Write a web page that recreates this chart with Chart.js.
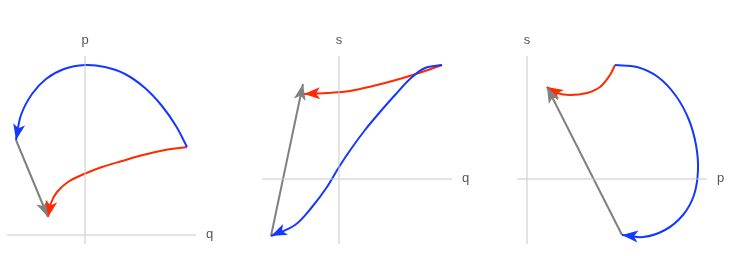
<!DOCTYPE html>
<html>
<head>
<meta charset="utf-8">
<script src="https://cdn.jsdelivr.net/npm/chart.js@4/dist/chart.umd.min.js"></script>
<style>
  html, body { margin: 0; padding: 0; background: #fff; }
  #wrap { position: relative; width: 747px; height: 256px; }
  .panel { position: absolute; top: 0; width: 249px; height: 256px; }
</style>
</head>
<body>
<div id="wrap">
  <div class="panel" style="left:0"><canvas id="c1" width="249" height="256"></canvas></div>
  <div class="panel" style="left:249px"><canvas id="c2" width="249" height="256"></canvas></div>
  <div class="panel" style="left:498px"><canvas id="c3" width="249" height="256"></canvas></div>
</div>
<script>
// panel 1: (q, p)
const p1Blue = [[10.2,8.8],[9.1,10.9],[7.7,12.9],[6.0,14.7],[4.0,16.1],[2.0,16.8],[0,17.0],[-2.1,16.6],[-3.9,15.6],[-5.3,14.1],[-6.4,12.0],[-6.9,9.5]];
const p1Red = [[10.2,8.8],[8.0,8.5],[5.8,8.0],[3.7,7.4],[1.7,6.8],[-0.1,6.1],[-1.7,5.3],[-2.8,4.3],[-3.4,3.2],[-3.7,1.8]];
const p1Gray = [[-6.9,9.5],[-3.7,1.8]];
const p1AxisX = [-7.8, 11.1];
const p1AxisY = [-0.9, 17.9];
const p1Labels = ['q', 'p'];

// panel 2: (q, s)
const p2Blue = [[10.3,11.4],[8.6,11.1],[7.2,10.1],[5.6,8.4],[4.1,6.7],[2.6,4.9],[1.2,3.0],[0,1.2],[-1.2,-0.8],[-2.7,-2.8],[-4.4,-4.6],[-6.8,-5.7]];
const p2Red = [[10.3,11.4],[8.0,10.6],[5.7,9.9],[3.4,9.3],[1.1,8.8],[-1.2,8.6],[-3.5,8.5]];
const p2Gray = [[-6.8,-5.7],[-3.6,9.5]];
const p2AxisX = [-7.7, 11.3];
const p2AxisY = [-6.5, 12.3];
const p2Labels = ['q', 's'];

// panel 3: (p, s)
const p3Blue = [[8.8,11.4],[11.0,11.2],[13.1,10.2],[14.9,8.3],[16.2,5.9],[16.9,3.4],[17.1,0.9],[16.7,-1.6],[15.6,-3.6],[13.8,-5.1],[11.6,-5.8],[9.5,-5.6]];
const p3Red = [[8.8,11.4],[8.3,10.4],[7.3,9.2],[6.0,8.6],[4.3,8.4],[3.0,8.6],[2.0,9.2]];
const p3Gray = [[9.5,-5.6],[2.0,9.2]];
const p3AxisX = [-1.0, 18.0];
const p3AxisY = [-6.5, 12.3];
const p3Labels = ['p', 's'];

const BLUE = '#1438ff';
const RED = '#ff2a00';
const GRAY = '#808080';
const AXIS = '#c8c8c8';

function pts(arr){ return arr.map(a => ({ x: a[0], y: a[1] })); }

function curve(arr, color, tension, arrow){
    return { data: pts(arr), borderColor: color, backgroundColor: color, borderWidth: 2,
             pointRadius: 0, tension, fill: false, arrow };
}

const arrowPlugin = {
    id: 'arrows',
    afterDatasetsDraw(chart){
        const ctx = chart.ctx;
        chart.data.datasets.forEach((ds, i) => {
            if(!ds.arrow) return;
            const els = chart.getDatasetMeta(i).data;
            const tip = els[els.length - 1];
            const prev = els[els.length - 2];
            let bx = prev.x, by = prev.y;
            if(tip.cp1x !== undefined && (tip.cp1x !== tip.x || tip.cp1y !== tip.y)){ bx = tip.cp1x; by = tip.cp1y; }
            const ang = Math.atan2(tip.y - by, tip.x - bx);
            const len = 16, hw = 6;
            ctx.save();
            ctx.translate(tip.x, tip.y);
            ctx.rotate(ang);
            ctx.fillStyle = ds.borderColor;
            ctx.beginPath();
            ctx.moveTo(0, 0);
            ctx.lineTo(-len, -hw);
            ctx.lineTo(-len * 0.75, 0);
            ctx.lineTo(-len, hw);
            ctx.closePath();
            ctx.fill();
            ctx.restore();
        });
    }
};

const labelPlugin = {
    id: 'axisLabels',
    afterDraw(chart){
        const o = chart.options.plugins.axisLabels;
        const xs = chart.scales.x, ys = chart.scales.y;
        const ctx = chart.ctx;
        ctx.save();
        ctx.fillStyle = '#555';
        ctx.font = '13px "Liberation Sans", Arial, sans-serif';
        ctx.textBaseline = 'middle';
        ctx.textAlign = 'left';
        ctx.fillText(o.names[0], xs.getPixelForValue(o.axisX[1]) + 10, ys.getPixelForValue(0) - 1);
        ctx.textAlign = 'center';
        ctx.fillText(o.names[1], xs.getPixelForValue(0), ys.getPixelForValue(o.axisY[1]) - 16);
        ctx.restore();
    }
};

function buildPanel(id, blue, red, gray, axisX, axisY, names, xr, yr, redFirst){
    const axes = [
        { data: [{ x: axisX[0], y: 0 }, { x: axisX[1], y: 0 }], borderColor: AXIS, borderWidth: 1, pointRadius: 0 },
        { data: [{ x: 0, y: axisY[0] }, { x: 0, y: axisY[1] }], borderColor: AXIS, borderWidth: 1, pointRadius: 0 }
    ];
    const g = curve(gray, GRAY, 0, true);
    const r = curve(red, RED, 0.35, true);
    const b = curve(blue, BLUE, 0.35, true);
    const sets = redFirst ? axes.concat([b, r, g]) : axes.concat([b, g, r]);
    return new Chart(document.getElementById(id), {
        type: 'scatter',
        data: { datasets: sets },
        options: {
            responsive: false,
            animation: false,
            showLine: true,
            layout: { padding: 0 },
            scales: {
                x: { type: 'linear', display: false, min: xr[0], max: xr[1] },
                y: { type: 'linear', display: false, min: yr[0], max: yr[1] }
            },
            plugins: { legend: { display: false }, tooltip: { enabled: false },
                       axisLabels: { names, axisX, axisY } }
        },
        plugins: [arrowPlugin, labelPlugin]
    });
}

buildPanel('c1', p1Blue, p1Red, p1Gray, p1AxisX, p1AxisY, p1Labels, [-8.5, 16.4], [-2.1, 23.5], false);
buildPanel('c2', p2Blue, p2Red, p2Gray, p2AxisX, p2AxisY, p2Labels, [-9.0, 15.9], [-7.7, 17.9], false);
buildPanel('c3', p3Blue, p3Red, p3Gray, p3AxisX, p3AxisY, p3Labels, [-2.9, 22.0], [-7.7, 17.9], true);
</script>
</body>
</html>
